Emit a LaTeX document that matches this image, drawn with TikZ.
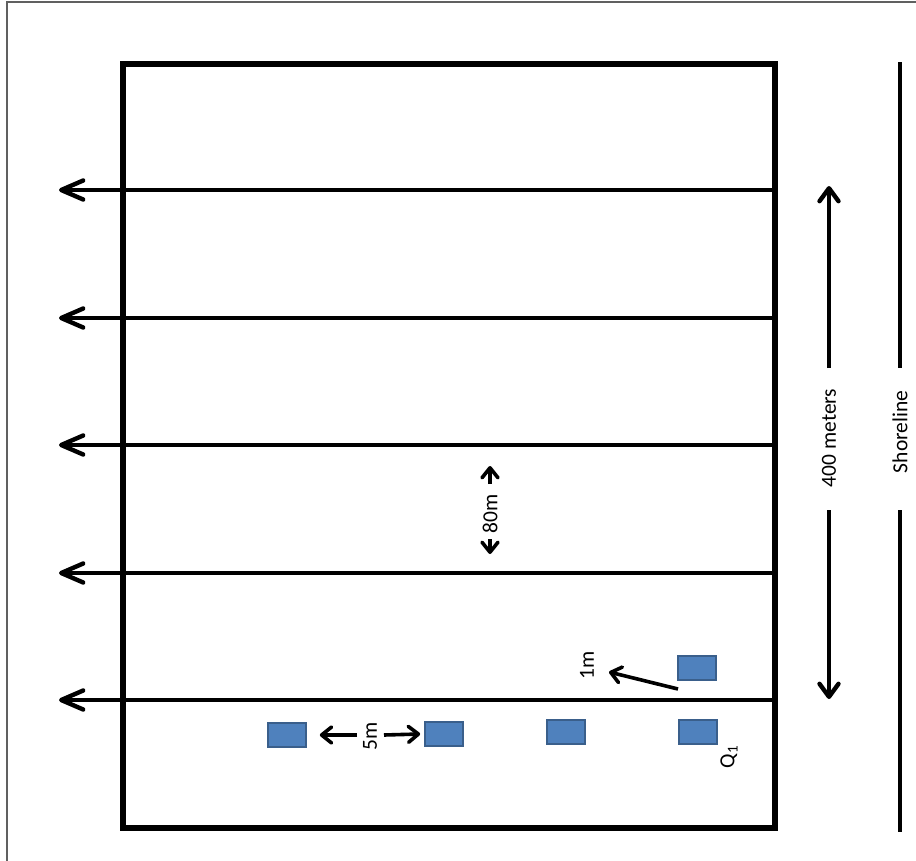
\documentclass[tikz,border=0pt]{standalone}
\usepackage{fontspec}
\setmainfont{Carlito}
\usetikzlibrary{arrows.meta}
\begin{document}
\begin{tikzpicture}[x=1pt,y=-1pt,
  barb/.style={-{Straight Barb[length=#1,width=19pt,line cap=round,line join=round]}},
  wall/.style={line width=5.5pt, line join=miter},
  transect/.style={line width=4.4pt, barb=22pt},
  extent/.style={line width=4.4pt, barb=13pt},
  shore/.style={line width=4.4pt},
  short/.style={line width=3.6pt, -{Straight Barb[length=10pt,width=16pt,line cap=round,line join=round]}},
  quadrat/.style={draw=quadedge, fill=quadfill, line width=1.6pt, minimum width=38pt, minimum height=24pt, inner sep=0pt},
  label/.style={font=\fontsize{21.5}{21.5}\selectfont, text=black, inner sep=0pt, rotate=90},
]
\definecolor{quadfill}{HTML}{4F81BD}
\definecolor{quadedge}{HTML}{3A5F8B}
\definecolor{framegray}{HTML}{606060}

\useasboundingbox[fill=white] (0,0) rectangle (916,860);
% outer frame (top and left edges only)
\draw[framegray, line width=1.6pt] (7,862) -- (7,2) -- (918,2);

% study area
\draw[wall] (123,64) rectangle (775,828);

% transect lines running seaward
\foreach \yy [count=\i] in {190,318,445,573,700} {
  \coordinate (r\i) at (772,\yy);
  \coordinate (l\i) at (59,\yy);
  \draw[transect] (r\i) -- (l\i);
}

% 80 m spacing between transects
\node[label] (t80) at (490,514) {80m};
\coordinate (a80s) at (490,484);
\coordinate (a80u) at (490,466);
\coordinate (a80t) at (490,539);
\coordinate (a80d) at (490,554);
\draw[short] (a80s) -- (a80u);
\draw[short] (a80t) -- (a80d);

% 400 m extent
\node[label] (t400) at (829,438) {400 meters};
\coordinate (s400a) at (829,368);
\coordinate (s400t) at (829,186);
\coordinate (s400c) at (829,510);
\coordinate (s400b) at (829,699);
\draw[extent] (s400a) -- (s400t);
\draw[extent] (s400c) -- (s400b);

% shoreline
\node[label] (tshore) at (900,432) {Shoreline};
\coordinate (sh1) at (900,62);
\coordinate (sh2) at (900,368);
\coordinate (sh3) at (900,510);
\coordinate (sh4) at (900,832);
\draw[shore] (sh1) -- (sh2);
\draw[shore] (sh3) -- (sh4);

% quadrats
\node[quadrat] (q1) at (698,732) {};
\node[quadrat] (q2) at (566,732) {};
\node[quadrat] (q3) at (444,734) {};
\node[quadrat] (q4) at (287,735) {};
\node[quadrat] (qup) at (697,668) {};

\node[label] (tq) at (729,757) {Q\textsubscript{1}};

% 1 m offset
\node[label] (t1) at (587,665) {1m};
\coordinate (a1s) at (678,689);
\coordinate (a1) at (609,672);
\draw[short] (a1s) -- (a1);

% 5 m between quadrats
\node[label] (t5) at (370,736) {5m};
\coordinate (a5l) at (357,735);
\coordinate (a5r) at (384,735);
\draw[short] (a5l) -- ([xshift=13pt]q4.east);
\draw[short] (a5r) -- ([xshift=-4pt]q3.west);
\end{tikzpicture}
\end{document}
